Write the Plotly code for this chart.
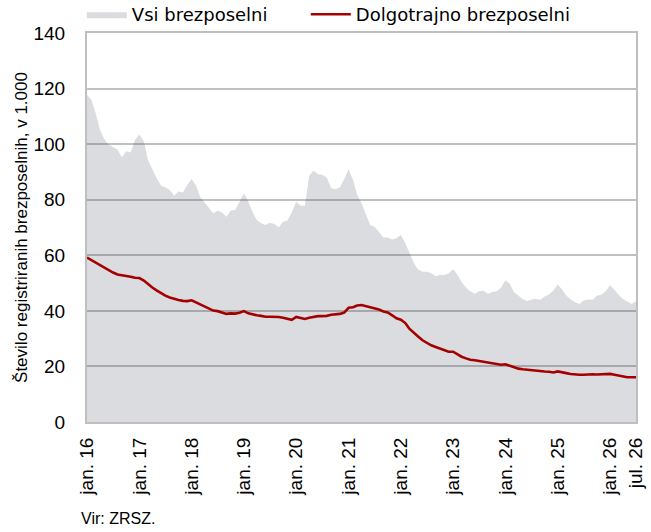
import pandas as pd
import plotly.graph_objects as go

# monthly, jan. 2016 - jul. 2026 (thousands)
months = pd.date_range("2016-01-01", "2026-07-01", freq="MS")

vsi = [
    117.8, 116.0, 111.2, 105.2, 101.8, 99.8, 99.0, 98.0, 95.3, 97.4, 97.0, 101.5,
    103.5, 101.0, 94.4, 90.8, 87.8, 85.0, 84.5, 83.5, 81.4, 83.0, 82.6, 85.3,
    87.5, 85.0, 81.1, 79.0, 76.9, 75.1, 76.0, 75.4, 73.9, 76.1, 76.3, 79.3,
    82.3, 79.3, 75.7, 72.7, 71.5, 70.9, 71.7, 71.3, 70.1, 72.1, 72.5, 75.4,
    79.3, 77.8, 77.8, 88.5, 90.5, 89.2, 89.0, 88.0, 84.1, 83.8, 84.5, 87.4,
    91.0, 87.1, 82.0, 78.7, 75.1, 70.9, 70.3, 68.5, 66.4, 66.4, 65.7, 66.1,
    67.3, 64.3, 60.7, 57.3, 54.9, 54.1, 54.1, 53.5, 52.5, 52.9, 52.9, 53.5,
    55.0, 52.9, 50.4, 48.4, 47.1, 46.2, 47.1, 47.2, 46.2, 46.8, 47.1, 48.3,
    51.0, 49.8, 46.7, 45.5, 44.3, 43.5, 44.1, 44.3, 44.0, 45.2, 45.9, 47.3,
    49.5, 47.6, 45.5, 44.1, 43.1, 42.5, 43.7, 44.1, 44.0, 45.5, 45.8, 47.1,
    49.2, 47.6, 45.8, 44.3, 43.5, 42.5, 43.5,
]

dolgotrajno = [
    59.2, 58.3, 57.3, 56.3, 55.5, 54.7, 53.8, 53.1, 52.9, 52.6, 52.3, 51.9,
    51.8, 50.9, 49.6, 48.4, 47.4, 46.4, 45.5, 44.8, 44.3, 43.9, 43.6, 43.5,
    43.8, 43.0, 42.3, 41.4, 40.7, 40.1, 39.9, 39.4, 38.9, 39.1, 39.0, 39.3,
    39.9, 39.1, 38.7, 38.4, 38.2, 37.9, 37.9, 37.9, 37.8, 37.5, 37.1, 36.8,
    37.8, 37.3, 37.1, 37.5, 37.8, 38.1, 38.1, 38.2, 38.6, 38.8, 38.9, 39.4,
    41.1, 41.3, 41.9, 42.1, 41.7, 41.1, 40.8, 40.5, 39.8, 39.4, 38.4, 37.3,
    36.8, 35.6, 33.6, 32.0, 30.8, 29.4, 28.4, 27.6, 27.0, 26.4, 25.8, 25.3,
    25.3, 24.3, 23.5, 22.9, 22.4, 22.2, 21.9, 21.6, 21.3, 21.1, 20.8, 20.6,
    20.8, 20.2, 19.6, 19.2, 19.0, 18.8, 18.6, 18.4, 18.3, 18.2, 18.1, 17.8,
    18.2, 18.0, 17.6, 17.3, 17.1, 17.0, 17.0, 17.2, 17.2, 17.1, 17.1, 17.2,
    17.3, 17.0, 16.7, 16.4, 16.1, 16.1, 16.1,
]

tick_dates = ["2016-01-01", "2017-01-01", "2018-01-01", "2019-01-01", "2020-01-01",
              "2021-01-01", "2022-01-01", "2023-01-01", "2024-01-01", "2025-01-01",
              "2026-01-01", "2026-07-01"]
tick_labels = ["jan. 16", "jan. 17", "jan. 18", "jan. 19", "jan. 20", "jan. 21",
               "jan. 22", "jan. 23", "jan. 24", "jan. 25", "jan. 26", "jul. 26"]

fig = go.Figure()
fig.add_trace(go.Scatter(
    x=months, y=vsi, name="Vsi brezposelni", mode="lines",
    line=dict(width=0, color="rgba(55,60,75,0.18)"),
    fill="tozeroy", fillcolor="rgba(55,60,75,0.18)", legend="legend",
))
fig.add_trace(go.Scatter(
    x=months, y=dolgotrajno, name="Dolgotrajno brezposelni", mode="lines",
    line=dict(width=2.6, color="#a50000"), legend="legend2",
))

leg_font = dict(family="DejaVu Sans", size=18, color="#000000")
fig.update_layout(
    width=651, height=532,
    margin=dict(l=87, r=15, t=33, b=110, autoexpand=False),
    paper_bgcolor="white", plot_bgcolor="white",
    font=dict(family="Liberation Sans, Arial", size=19, color="#000000"),
    showlegend=True,
    legend=dict(orientation="h", x=-0.0094, y=1.0, yanchor="bottom", xanchor="left",
                font=leg_font, itemwidth=40, bgcolor="rgba(0,0,0,0)"),
    legend2=dict(orientation="h", x=0.3986, y=1.0, yanchor="bottom", xanchor="left",
                 font=leg_font, itemwidth=40, bgcolor="rgba(0,0,0,0)"),
    annotations=[dict(text="Vir: ZRSZ.", xref="paper", yref="paper",
                      x=-0.015, y=-0.249, xanchor="left", yanchor="middle",
                      showarrow=False, font=dict(size=16))],
)
fig.update_xaxes(
    range=["2016-01-01", "2026-07-01"], tickmode="array",
    tickvals=tick_dates, ticktext=tick_labels, tickangle=-90,
    showgrid=False, showline=True, linecolor="#bfbfbf", linewidth=2, mirror=True,
    ticks="", zeroline=False, automargin=False, ticklabelstandoff=6,
)
fig.update_yaxes(
    range=[0, 140], dtick=20, showgrid=True, gridcolor="#c0c0c0", gridwidth=1.5,
    showline=True, linecolor="#bfbfbf", linewidth=2, mirror=True, zeroline=False,
    ticks="", ticklabelstandoff=16, automargin=False,
    title=dict(text="Število registriranih brezposelnih, v 1.000", standoff=2,
               font=dict(size=17)),
)

fig.write_html("out.html", config={"displayModeBar": False},
               post_script="document.body.style.margin='0px';")
